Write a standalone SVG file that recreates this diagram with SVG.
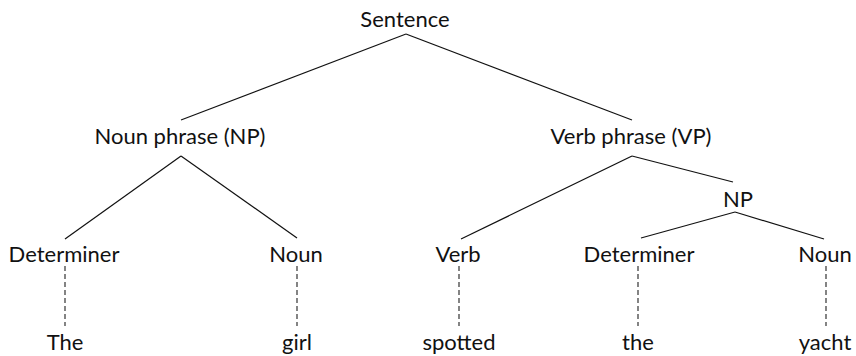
<svg xmlns="http://www.w3.org/2000/svg" width="856" height="356" viewBox="0 0 856 356">
<style>
text{font-family:"Lato","Open Sans","DejaVu Sans",sans-serif;font-size:22px;fill:#111;text-anchor:middle}
.e{stroke:#111;stroke-width:1.2;fill:none}
.d{stroke:#333;stroke-width:1.2;stroke-dasharray:5 3;fill:none}
</style>
<rect width="856" height="356" fill="#fff"/>
<g id="connectors">
<line class="e" x1="406" y1="34" x2="181" y2="120"/>
<line class="e" x1="406" y1="34" x2="632" y2="120"/>
<line class="e" x1="181" y1="156" x2="65" y2="239"/>
<line class="e" x1="181" y1="156" x2="297" y2="238"/>
<line class="e" x1="632" y1="156" x2="461" y2="239"/>
<line class="e" x1="632" y1="156" x2="733" y2="182"/>
<line class="e" x1="735" y1="212" x2="641" y2="238"/>
<line class="e" x1="735" y1="212" x2="824" y2="239"/>
<line class="d" x1="65" y1="266" x2="65" y2="326"/>
<line class="d" x1="297" y1="266" x2="297" y2="326"/>
<line class="d" x1="459" y1="266" x2="459" y2="326"/>
<line class="d" x1="638" y1="266" x2="638" y2="326"/>
<line class="d" x1="826" y1="266" x2="826" y2="326"/>
</g>
<g id="sentence"><text x="405" y="27">Sentence</text></g>
<g id="np1"><text x="180" y="144">Noun phrase (NP)</text></g>
<g id="vp"><text x="631" y="144">Verb phrase (VP)</text></g>
<g id="np2"><text x="738" y="207">NP</text></g>
<g id="det1"><text x="64" y="262">Determiner</text></g>
<g id="noun1"><text x="296" y="262">Noun</text></g>
<g id="verb"><text x="458" y="262">Verb</text></g>
<g id="det2"><text x="639" y="262">Determiner</text></g>
<g id="noun2"><text x="825" y="262">Noun</text></g>
<g id="w-the1"><text x="65" y="350">The</text></g>
<g id="w-girl"><text x="297" y="350">girl</text></g>
<g id="w-spotted"><text x="459" y="350">spotted</text></g>
<g id="w-the2"><text x="638" y="350">the</text></g>
<g id="w-yacht"><text x="825" y="350">yacht</text></g>
</svg>
